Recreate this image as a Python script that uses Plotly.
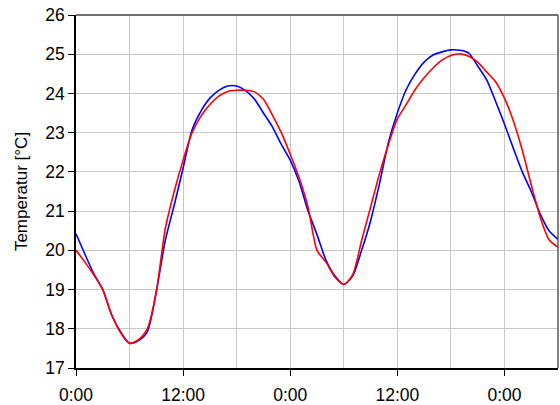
import plotly.graph_objects as go

# Hourly temperatures over 54 hours
hours = list(range(0, 55))

temp_blue = [
    20.42, 19.90, 19.40, 19.00, 18.35, 17.92, 17.63, 17.70, 17.93, 18.95,
    20.25, 21.15, 22.10, 23.07, 23.55, 23.88, 24.08, 24.19, 24.19, 24.07,
    23.85, 23.50, 23.15, 22.70, 22.30, 21.75, 21.00, 20.40, 19.75, 19.35,
    19.13, 19.35, 20.00, 20.75, 21.70, 22.75, 23.50, 24.10, 24.50, 24.80,
    24.98, 25.06, 25.11, 25.10, 25.03, 24.70, 24.35, 23.80, 23.22, 22.60,
    22.00, 21.50, 20.93, 20.50, 20.28,
]

temp_red = [
    20.00, 19.70, 19.37, 19.00, 18.35, 17.90, 17.63, 17.72, 18.00, 18.95,
    20.55, 21.50, 22.30, 23.00, 23.42, 23.72, 23.93, 24.05, 24.08, 24.08,
    24.04, 23.85, 23.45, 23.00, 22.45, 21.85, 21.10, 20.00, 19.70, 19.32,
    19.13, 19.38, 20.25, 21.10, 21.95, 22.70, 23.35, 23.72, 24.10, 24.40,
    24.65, 24.85, 24.97, 25.01, 24.95, 24.80, 24.55, 24.30, 23.88, 23.30,
    22.55, 21.67, 20.85, 20.27, 20.08,
]

tick_hours = [0, 12, 24, 36, 48]
tick_labels = ["0:00", "12:00", "0:00", "12:00", "0:00"]

FONT = "Liberation Sans, Arial, sans-serif"

fig = go.Figure()
fig.add_trace(go.Scatter(x=hours, y=temp_blue, mode="lines",
                         line=dict(color="#0000ff", width=1.6, shape="spline", smoothing=0.7),
                         showlegend=False))
fig.add_trace(go.Scatter(x=hours, y=temp_red, mode="lines",
                         line=dict(color="#ff0000", width=1.6, shape="spline", smoothing=0.7),
                         showlegend=False))

fig.update_layout(
    width=560, height=405,
    margin=dict(l=76, r=2, t=15, b=37),
    paper_bgcolor="white", plot_bgcolor="white",
    font=dict(family=FONT, size=17, color="black"),
    xaxis=dict(
        range=[0, 54], tickmode="array", tickvals=tick_hours, ticktext=tick_labels,
        tickfont=dict(size=17.5), ticklabelstandoff=4, automargin=False,
        showgrid=True, gridcolor="#c8c8c8", gridwidth=1,
        minor=dict(tickmode="linear", tick0=0, dtick=6, showgrid=True,
                   gridcolor="#c8c8c8", gridwidth=1, ticks=""),
        showline=True, linecolor="black", linewidth=1.5,
        ticks="outside", ticklen=6, tickcolor="black", tickwidth=1.3,
        zeroline=False, fixedrange=True,
    ),
    yaxis=dict(
        range=[17, 26], tickmode="linear", tick0=17, dtick=1,
        tickfont=dict(size=17.5), automargin=False,
        showgrid=True, gridcolor="#c8c8c8", gridwidth=1,
        showline=True, linecolor="black", linewidth=1.5,
        ticks="outside", ticklen=6, tickcolor="black", tickwidth=1.3,
        zeroline=False,
        title=dict(text="Temperatur [°C]", standoff=13, font=dict(size=17)),
    ),
    shapes=[
        dict(type="line", xref="paper", yref="paper", x0=0, x1=1, y0=1, y1=1,
             line=dict(color="#404040", width=1.3)),
        dict(type="line", xref="paper", yref="paper", x0=1, x1=1, y0=0, y1=1,
             line=dict(color="#404040", width=1.3)),
    ],
)

fig.write_html("out.html")
